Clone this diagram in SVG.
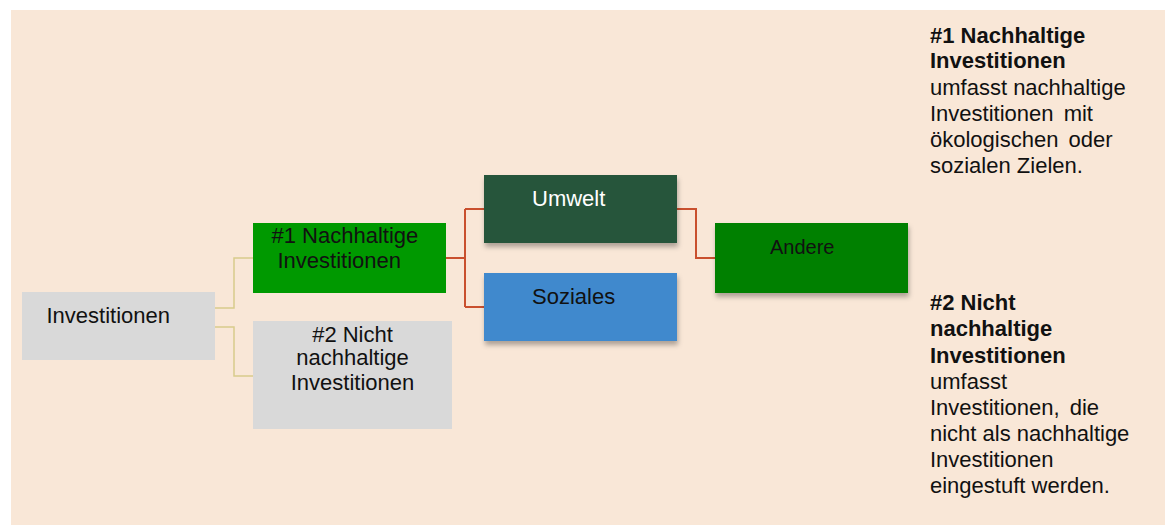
<svg xmlns="http://www.w3.org/2000/svg" width="1169" height="525" viewBox="0 0 1169 525">
<style>
.t{font-family:"Liberation Sans",Arial,sans-serif;font-size:22px;fill:#111}
.w{fill:#fff}
.b{font-weight:bold}
.gray{fill:#d9d9d9}
.c1{fill:none;stroke:#d8cc8c;stroke-width:1.5}
.c2{fill:none;stroke:#c9502e;stroke-width:2}
</style>
<defs>
<filter id="sh" x="-10%" y="-10%" width="125%" height="140%">
<feDropShadow dx="1" dy="4" stdDeviation="2.5" flood-color="#000" flood-opacity="0.3"/>
</filter>
</defs>
<rect x="11" y="10" width="1154" height="515" fill="#f9e7d7"/>
<g id="connectors">
<path class="c1" d="M215 308 H234 V258 H253"/>
<path class="c1" d="M215 327 H234 V376 H253"/>
<path class="c2" d="M446 258 H465 M465 209 V307 M465 209 H484 M465 307 H484"/>
<path class="c2" d="M677 209 H696 V258 H715"/>
</g>
<g id="node-investitionen">
<rect class="gray" x="22" y="292" width="193" height="68"/>
<text class="t" x="46.5" y="323">Investitionen</text>
</g>
<g id="node-nachhaltig">
<rect x="253" y="223" width="193" height="70" fill="#009900"/>
<text class="t" x="271.5" y="242.5">#1 Nachhaltige</text>
<text class="t" x="277.5" y="267.5">Investitionen</text>
</g>
<g id="node-nicht">
<rect class="gray" x="253" y="321" width="199" height="108"/>
<text class="t" x="352.5" y="341.5" text-anchor="middle">#2 Nicht</text>
<text class="t" x="352.5" y="365" text-anchor="middle">nachhaltige</text>
<text class="t" x="352.5" y="390" text-anchor="middle">Investitionen</text>
</g>
<g id="node-umwelt">
<rect x="484" y="175" width="193" height="68" fill="#25553a" filter="url(#sh)"/>
<text class="t w" x="532" y="205.5">Umwelt</text>
</g>
<g id="node-soziales">
<rect x="484" y="273" width="193" height="68" fill="#3f89cd" filter="url(#sh)"/>
<text class="t" x="532" y="303.5">Soziales</text>
</g>
<g id="node-andere">
<rect x="715" y="223" width="193" height="70" fill="#008000" filter="url(#sh)"/>
<text class="t" x="770" y="254" style="font-size:20px">Andere</text>
</g>
<g id="legend-1">
<text class="t b" x="930" y="42.5">#1 Nachhaltige</text>
<text class="t b" x="930" y="68">Investitionen</text>
<text class="t" x="930" y="95">umfasst nachhaltige</text>
<text class="t" x="930" y="120.5" word-spacing="4">Investitionen mit</text>
<text class="t" x="930" y="147" word-spacing="4">ökologischen oder</text>
<text class="t" x="930" y="173">sozialen Zielen.</text>
</g>
<g id="legend-2">
<text class="t b" x="930" y="310">#2 Nicht</text>
<text class="t b" x="930" y="335.5">nachhaltige</text>
<text class="t b" x="930" y="362.5">Investitionen</text>
<text class="t" x="930" y="389">umfasst</text>
<text class="t" x="930" y="415" word-spacing="4">Investitionen, die</text>
<text class="t" x="930" y="441">nicht als nachhaltige</text>
<text class="t" x="930" y="467">Investitionen</text>
<text class="t" x="930" y="493">eingestuft werden.</text>
</g>
</svg>
